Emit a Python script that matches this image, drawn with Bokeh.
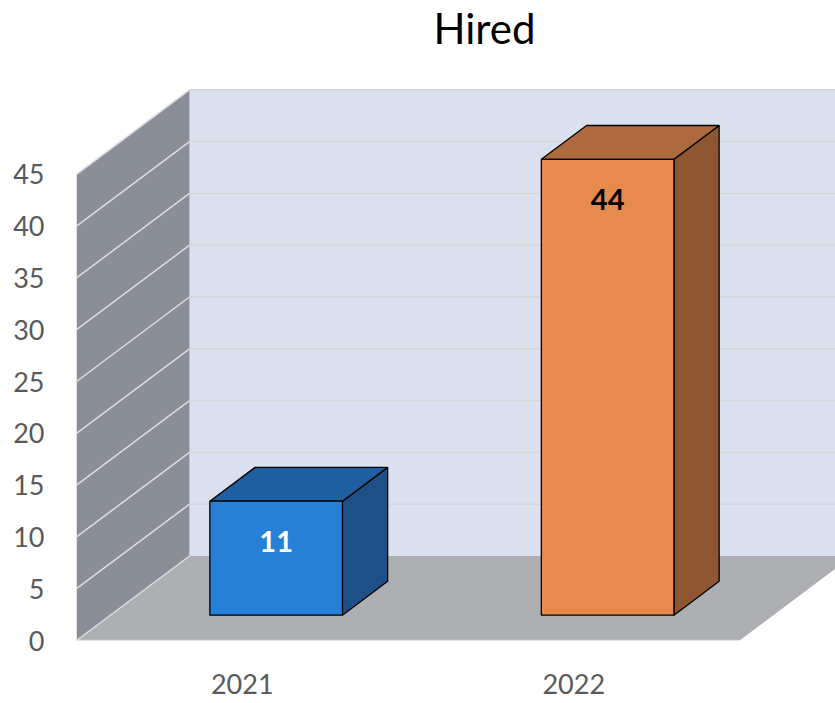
from bokeh.plotting import figure
from bokeh.models import Range1d, FixedTicker, Label, ColumnDataSource
from bokeh.core.properties import value
from bokeh.embed import file_html
from bokeh.resources import INLINE

# ---- data ----
categories = ["2021", "2022"]
hired = [11, 44]
y_ticks = [0, 5, 10, 15, 20, 25, 30, 35, 40, 45]
title_text = "Hired"

front_colors = ["#2780D6", "#E68A4E"]
top_colors = ["#1F5F9F", "#AD6A3C"]
side_colors = ["#1E4F86", "#8E5631"]
label_colors = ["#FFFFFF", "#000000"]

# ---- projection / layout constants ----
W, H = 835, 703
LEFT, BOTTOM = 76, 63
PX_X = 331.5      # screen px per category slot
PX_Y = 10.36      # screen px per value unit
FRAME_W = W - LEFT
FRAME_H = H - BOTTOM
DX = 113 / PX_X   # full depth offset (x units)
DY = 84.5 / PX_Y  # full depth offset (value units)
BAR_W = 0.4
D0, D1 = 0.3, 0.7  # bar depth span (fraction of floor depth)
YMAX = y_ticks[-1]
n = len(categories)

p = figure(width=W, height=H, output_backend="svg", toolbar_location=None,
           x_range=Range1d(0, FRAME_W / PX_X), y_range=Range1d(0, FRAME_H / PX_Y),
           min_border_left=LEFT, min_border_right=0, min_border_top=0,
           min_border_bottom=BOTTOM)
p.outline_line_color = None
p.grid.visible = False
p.background_fill_color = "white"
p.border_fill_color = "white"

# walls and floor
p.patch([0, n, n + DX, DX], [0, 0, DY, DY], fill_color="#ADAFB3", line_color=None)
p.patch([DX, DX, n + DX, n + DX], [DY, YMAX + DY, YMAX + DY, DY],
        fill_color="#DBE0EE", line_color=None)
p.patch([0, 0, DX, DX], [0, YMAX, YMAX + DY, DY], fill_color="#8A8E99", line_color=None)

# gridlines
bw = [t for t in y_ticks if t > 0]
p.segment(x0=[DX] * len(bw), y0=[t + DY for t in bw], x1=[n + DX] * len(bw),
          y1=[t + DY for t in bw], line_color="#D4D6DA", line_width=1.5)
p.segment(x0=[0] * len(y_ticks), y0=y_ticks, x1=[DX] * len(y_ticks),
          y1=[t + DY for t in y_ticks], line_color="#DCDDE0", line_width=1.5)
p.segment(x0=[0], y0=[0], x1=[n], y1=[0], line_color="#D9D9D9", line_width=1.5)

# bars
fx, fy, tx, ty, sx, sy = [], [], [], [], [], []
lx, ly = [], []
for i, v in enumerate(hired):
    xl = i + (1 - BAR_W) / 2 + D0 * DX
    xr = xl + BAR_W
    yb = D0 * DY
    yt = v + D0 * DY
    bdx = (D1 - D0) * DX
    bdy = (D1 - D0) * DY
    fx.append([xl, xr, xr, xl]); fy.append([yb, yb, yt, yt])
    tx.append([xl, xr, xr + bdx, xl + bdx]); ty.append([yt, yt, yt + bdy, yt + bdy])
    sx.append([xr, xr + bdx, xr + bdx, xr]); sy.append([yb, yb + bdy, yt + bdy, yt])
    lx.append((xl + xr) / 2)
    ly.append(yt - 3.9)

p.patches(sx, sy, fill_color=side_colors, line_color="black", line_width=1.3)
p.patches(tx, ty, fill_color=top_colors, line_color="black", line_width=1.3)
p.patches(fx, fy, fill_color=front_colors, line_color="black", line_width=1.3)

src = ColumnDataSource(dict(x=lx, y=ly, t=[str(v) for v in hired], c=label_colors))
p.text(x="x", y="y", text="t", source=src, text_color="c", text_align="center",
       text_baseline="middle", text_font=value("Lato"), text_font_style="bold",
       text_font_size="29px")

# axes
p.xaxis.ticker = FixedTicker(ticks=[i + 0.5 for i in range(n)])
p.xaxis.major_label_overrides = {i + 0.5: c for i, c in enumerate(categories)}
p.yaxis.ticker = FixedTicker(ticks=y_ticks)
for ax in (p.xaxis[0], p.yaxis[0]):
    ax.axis_line_color = None
    ax.major_tick_line_color = None
    ax.minor_tick_line_color = None
    ax.major_label_text_font = "Lato"
    ax.major_label_text_font_size = "27px"
    ax.major_label_text_color = "#595959"
p.xaxis.major_label_standoff = 27
p.yaxis.major_label_standoff = 26

p.add_layout(Label(x=(484 - LEFT) / PX_X, y=(FRAME_H - 27.5) / PX_Y, text=title_text,
                   text_font="Lato", text_font_size="42px", text_align="center",
                   text_baseline="middle", text_color="#000000"))

open("out.html", "w").write(file_html(p, INLINE))
